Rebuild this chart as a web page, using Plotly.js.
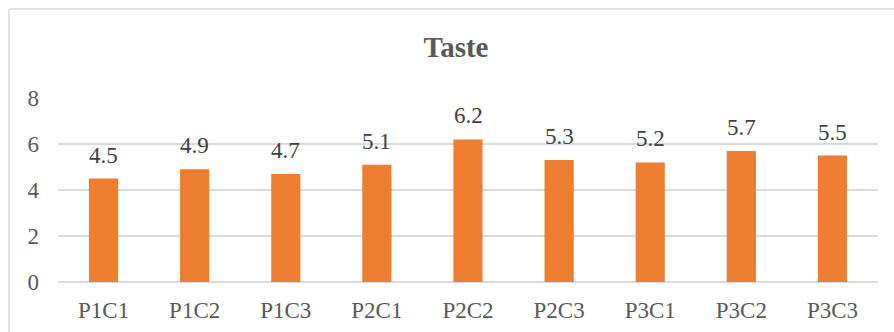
<!DOCTYPE html>
<html>
<head>
<meta charset="utf-8">
<script src="https://cdn.plot.ly/plotly-3.0.1.min.js"></script>
<style>
  html, body { margin: 0; padding: 0; background: #ffffff; }
  #chart { width: 894px; height: 332px; }
</style>
</head>
<body>
<div id="chart"></div>
<script>
// Taste scores per sample
const categories = ["P1C1", "P1C2", "P1C3", "P2C1", "P2C2", "P2C3", "P3C1", "P3C2", "P3C3"];
const tasteScores = [4.5, 4.9, 4.7, 5.1, 6.2, 5.3, 5.2, 5.7, 5.5];
const yTickValues = [0, 2, 4, 6, 8];

const serif = "'Liberation Serif', 'Times New Roman', serif";
const barColor = "#ED7D31";
const gridColor = "#d9d9d9";

const trace = {
  type: "bar",
  x: categories,
  y: tasteScores,
  marker: { color: barColor },
  hoverinfo: "skip"
};

// value labels above each bar
const valueLabels = categories.map((c, i) => ({
  x: c,
  y: tasteScores[i],
  xref: "x",
  yref: "y",
  text: tasteScores[i].toFixed(1),
  showarrow: false,
  yanchor: "bottom",
  yshift: 9,
  font: { family: serif, size: 23, color: "#404040" }
}));

const px = v => (v - 58) / 820;
const py = v => (282 - v) / 184;

const layout = {
  width: 894,
  height: 332,
  margin: { l: 58, r: 16, t: 98, b: 50, pad: 0 },
  paper_bgcolor: "#ffffff",
  plot_bgcolor: "#ffffff",
  showlegend: false,
  bargap: 0.68,
  title: {
    text: "<b>Taste</b>",
    font: { family: serif, size: 29, color: "#595959" },
    xref: "container", yref: "container",
    x: 456 / 894, xanchor: "center",
    y: 1 - 47 / 332, yanchor: "middle"
  },
  xaxis: {
    type: "category",
    showgrid: false,
    showline: false,
    zeroline: false,
    ticks: "",
    ticklabelstandoff: 12,
    tickfont: { family: serif, size: 23, color: "#595959" }
  },
  yaxis: {
    range: [0, 8],
    tickvals: yTickValues,
    ticktext: yTickValues.map(String),
    showgrid: true,
    gridcolor: gridColor,
    gridwidth: 1.5,
    zeroline: true,
    zerolinecolor: gridColor,
    zerolinewidth: 1.5,
    showline: false,
    ticks: "",
    ticklabelstandoff: 18,
    tickfont: { family: serif, size: 23, color: "#595959" }
  },
  // chart frame: left and top edges
  shapes: [
    { type: "line", xref: "paper", yref: "paper", x0: px(9), x1: px(9), y0: py(9), y1: py(334),
      line: { color: gridColor, width: 1.5 } },
    { type: "line", xref: "paper", yref: "paper", x0: px(9), x1: px(896), y0: py(9), y1: py(9),
      line: { color: gridColor, width: 1.5 } }
  ],
  annotations: valueLabels
};

Plotly.newPlot("chart", [trace], layout, { displayModeBar: false, staticPlot: true });
</script>
</body>
</html>
